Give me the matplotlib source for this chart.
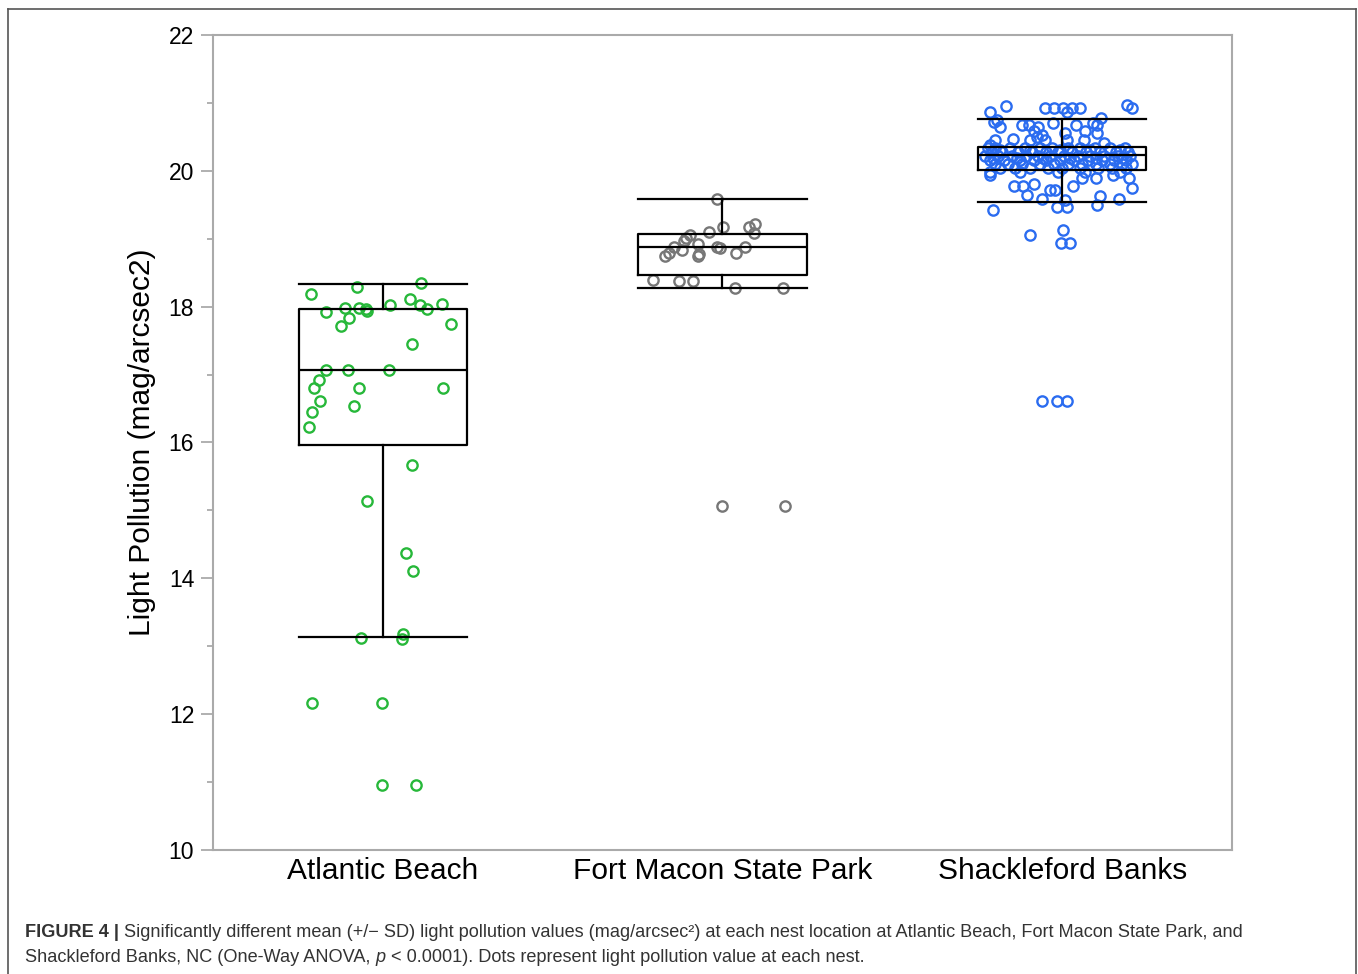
import matplotlib
matplotlib.use("Agg")
from matplotlib import pyplot as plt
from matplotlib.lines import Line2D
from matplotlib.ticker import MultipleLocator

plt.rcParams['font.family'] = ['Liberation Sans', 'DejaVu Sans']

# Categories and summary stats (mean +/- SD style boxes)
sites = ['Atlantic Beach', 'Fort Macon State Park', 'Shackleford Banks']
box_lo = [15.96, 18.47, 20.01]
box_mid = [17.07, 18.88, 20.23]
box_hi = [17.97, 19.07, 20.35]
whisk_lo = [13.14, 18.28, 19.54]
whisk_hi = [18.33, 19.59, 20.76]

# Atlantic Beach nests: values and horizontal jitter (category units)
ab_vals = [18.35, 18.18, 18.29, 17.98, 17.98, 17.96, 17.94, 17.92, 18.03, 18.11,
           18.03, 17.96, 18.04, 17.84, 17.71, 17.75, 17.45, 17.07, 17.07, 17.07,
           16.92, 16.80, 16.80, 16.80, 16.61, 16.53, 16.45, 16.23, 15.67, 15.14,
           14.37, 14.11, 13.12, 13.18, 13.11, 12.17, 12.17, 10.95, 10.95]
ab_jit = [0.114, -0.212, -0.076, -0.112, -0.071, -0.050, -0.046, -0.166, 0.021, 0.079,
          0.111, 0.129, 0.173, -0.100, -0.124, 0.202, 0.086, -0.166, -0.102, 0.019,
          -0.188, -0.202, -0.071, 0.176, -0.185, -0.085, -0.208, -0.216, 0.087, -0.047,
          0.068, 0.089, -0.063, 0.060, 0.057, -0.208, -0.001, -0.001, 0.099]

# Fort Macon State Park nests
fm_vals = [19.59, 19.18, 19.18, 19.22, 19.09, 19.10, 19.06, 19.01, 18.97, 18.88,
           18.83, 18.92, 18.88, 18.87, 18.78, 18.75, 18.79, 18.75, 18.79, 18.88,
           18.39, 18.38, 18.38, 18.27, 18.27, 15.07, 15.07]
fm_jit = [-0.016, 0.002, 0.079, 0.097, 0.092, -0.040, -0.097, -0.107, -0.112, -0.143,
          -0.118, -0.073, -0.016, -0.008, -0.070, -0.073, -0.158, -0.168, 0.041, 0.066,
          -0.205, -0.129, -0.086, 0.038, 0.179, 0.000, 0.185]

# Shackleford Banks nests
sb_vals = [20.87, 20.96, 20.92, 20.92, 20.92, 20.87, 20.92, 20.92, 20.97, 20.92,
           20.72, 20.75, 20.65, 20.68, 20.68, 20.65, 20.70, 20.68, 20.70, 20.68,
           20.78, 20.58, 20.55, 20.47, 20.58, 20.50, 20.53, 20.46, 20.45, 20.55,
           20.45, 20.45, 20.45, 20.41, 20.38,
           20.34, 20.34, 20.34, 20.34, 20.34, 20.34, 20.34, 20.34, 20.34, 20.34, 20.34,
           20.28, 20.28, 20.28, 20.28, 20.28, 20.28, 20.28, 20.28, 20.28, 20.28, 20.28,
           20.22, 20.22, 20.22, 20.22, 20.22, 20.22, 20.22, 20.22, 20.22, 20.22, 20.22, 20.22,
           20.16, 20.16, 20.16, 20.16, 20.16, 20.16, 20.16, 20.16, 20.16, 20.16, 20.16,
           20.10, 20.10, 20.10, 20.10, 20.10, 20.10, 20.10, 20.10, 20.10, 20.10, 20.10,
           20.04, 20.04, 20.04, 20.04, 20.04, 20.04, 20.04, 20.04, 20.04,
           19.98, 19.98, 19.98, 19.98, 19.98,
           20.31, 20.31, 20.31, 20.31, 20.31,
           20.19, 20.19, 20.19, 20.19, 20.19, 20.19,
           19.94, 19.77, 19.77, 19.80, 19.64, 19.72, 19.72, 19.58, 19.77, 19.89,
           19.89, 19.50, 19.63, 19.58, 19.94, 19.90, 19.74, 19.46, 19.46, 19.57,
           19.43, 19.06, 19.13, 18.94, 18.94, 16.61, 16.61, 16.61]
sb_jit = [-0.212, -0.166, -0.050, -0.024, 0.002, 0.014, 0.029, 0.053, 0.192, 0.205,
          -0.202, -0.192, -0.183, -0.119, -0.099, -0.070, -0.026, 0.041, 0.090, 0.102,
          0.115, 0.068, 0.102, -0.145, -0.084, -0.074, -0.060, -0.050, -0.094, 0.009,
          0.014, 0.063, -0.197, 0.122, -0.212,
          -0.218, -0.197, -0.153, -0.109, -0.065, -0.029, 0.018, 0.053, 0.097, 0.141, 0.185,
          -0.206, -0.177, -0.130, -0.088, -0.047, -0.012, 0.029, 0.071, 0.112, 0.159, 0.194,
          -0.227, -0.188, -0.147, -0.106, -0.071, -0.035, 0.006, 0.047, 0.082, 0.124, 0.165, 0.200,
          -0.212, -0.171, -0.124, -0.082, -0.047, -0.006, 0.035, 0.077, 0.118, 0.153, 0.188,
          -0.197, -0.159, -0.118, -0.065, -0.024, 0.018, 0.059, 0.100, 0.141, 0.177, 0.206,
          -0.183, -0.138, -0.094, -0.041, 0.000, 0.053, 0.106, 0.147, 0.188,
          -0.212, -0.124, -0.012, 0.068, 0.171,
          -0.183, -0.094, -0.006, 0.082, 0.171,
          -0.203, -0.132, -0.056, 0.024, 0.100, 0.177,
          -0.212, -0.143, -0.114, -0.082, -0.104, -0.035, -0.021, -0.060, 0.033, 0.058,
          0.100, 0.102, 0.112, 0.166, 0.151, 0.198, 0.205, -0.014, 0.014, 0.009,
          -0.204, -0.096, 0.002, -0.004, 0.024, -0.059, -0.015, 0.015]

dot_colors = ['#27b83a', '#777777', '#2b6cf0']

fig = plt.figure(figsize=(13.58, 9.74), dpi=100)
ax = fig.add_axes([0.1568, 0.1273, 0.7504, 0.8368])

# scatter of nests
groups = [(ab_vals, ab_jit), (fm_vals, fm_jit), (sb_vals, sb_jit)]
for i, (vals, jit) in enumerate(groups):
    xs = [i + 1 + j for j in jit]
    ax.plot(xs, vals, 'o', ls='none', mfc='none', mec=dot_colors[i],
            ms=7.4, mew=1.7, zorder=2)

# boxes
stats = []
for i in range(len(sites)):
    stats.append(dict(med=box_mid[i], q1=box_lo[i], q3=box_hi[i],
                      whislo=whisk_lo[i], whishi=whisk_hi[i], fliers=[]))
line = dict(color='black', lw=1.6)
ax.bxp(stats, positions=[1, 2, 3], widths=0.495, capwidths=0.495,
       showfliers=False, boxprops=line, whiskerprops=line, capprops=line,
       medianprops=line, zorder=3)

ax.set_xlim(0.5, 3.5)
ax.set_ylim(10, 22)
ax.set_xticks([1, 2, 3])
ax.set_xticklabels(sites, fontsize=21.5)
ax.yaxis.set_major_locator(MultipleLocator(2))
ax.yaxis.set_minor_locator(MultipleLocator(1))
ax.tick_params(axis='x', length=0, pad=5)
ax.tick_params(axis='y', which='major', length=8.5, width=1.3, color='#aaaaaa',
               labelsize=16.5, pad=5)
ax.tick_params(axis='y', which='minor', length=4.5, width=1.3, color='#aaaaaa')
for s in ax.spines.values():
    s.set_color('#aaaaaa')
    s.set_linewidth(1.5)
ax.set_ylabel('Light Pollution (mag/arcsec2)', fontsize=21.5, labelpad=9)

# outer frame of the figure panel
fr = dict(color='#555555', lw=1.2, transform=fig.transFigure)
fig.add_artist(Line2D([8/1358, 8/1358], [0, 1 - 9/974], **fr))
fig.add_artist(Line2D([8/1358, 1356/1358], [1 - 9/974, 1 - 9/974], **fr))
fig.add_artist(Line2D([1356/1358, 1356/1358], [0, 1 - 9/974], **fr))

# caption, pieces placed one after another
rend = fig.canvas.get_renderer()
def put_line(pieces, x0, y0, size=13.1):
    x = x0
    for txt, kw in pieces:
        t = fig.text(x, y0, txt, fontsize=size, color='#333333', va='baseline', **kw)
        bb = t.get_window_extent(renderer=rend)
        x = x + bb.width / fig.bbox.width

put_line([('FIGURE 4 | ', dict(weight='bold')),
          ('Significantly different mean (+/\u2212 SD) light pollution values (mag/arcsec\u00b2) '
           'at each nest location at Atlantic Beach, Fort Macon State Park, and', {})],
         25/1358, 1 - 937/974)
put_line([('Shackleford Banks, NC (One-Way ANOVA, ', {}),
          ('p', dict(style='italic')),
          (' < 0.0001). Dots represent light pollution value at each nest.', {})],
         25/1358, 1 - 962/974)

fig.savefig('out.png', dpi=100)
